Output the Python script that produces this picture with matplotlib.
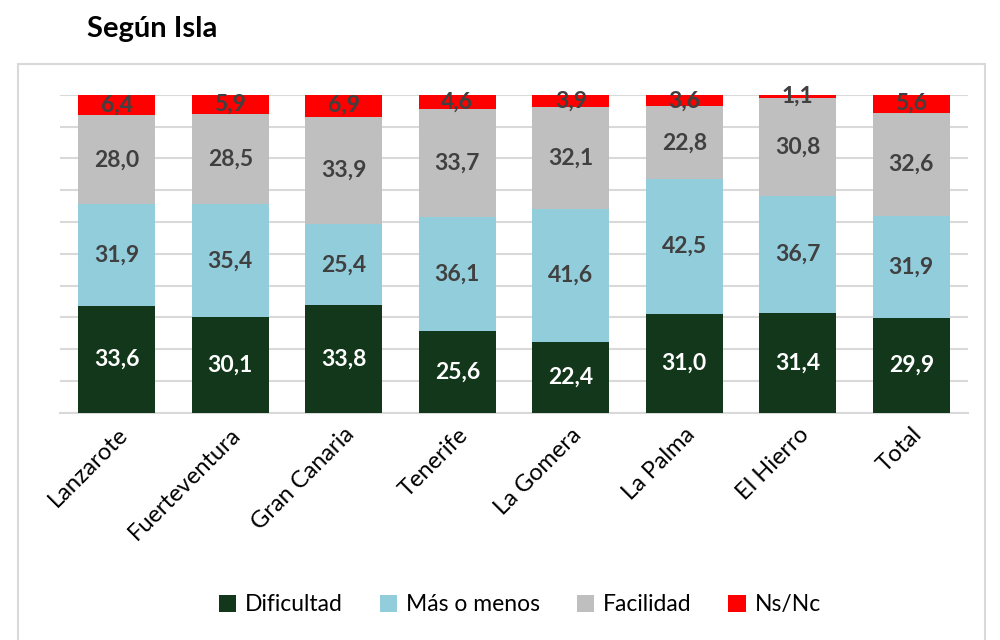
import matplotlib.pyplot as plt
import numpy as np
from matplotlib.patches import Rectangle

plt.rcParams['font.family'] = ['Lato', 'DejaVu Sans']

islas = ['Lanzarote', 'Fuerteventura', 'Gran Canaria', 'Tenerife',
         'La Gomera', 'La Palma', 'El Hierro', 'Total']
dificultad = [33.6, 30.1, 33.8, 25.6, 22.4, 31.0, 31.4, 29.9]
mas_o_menos = [31.9, 35.4, 25.4, 36.1, 41.6, 42.5, 36.7, 31.9]
facilidad = [28.0, 28.5, 33.9, 33.7, 32.1, 22.8, 30.8, 32.6]
ns_nc = [6.4, 5.9, 6.9, 4.6, 3.9, 3.6, 1.1, 5.6]

series = [('Dificultad', dificultad, '#12371a', 'white'),
          ('Más o menos', mas_o_menos, '#92cddc', '#404040'),
          ('Facilidad', facilidad, '#bfbfbf', '#404040'),
          ('Ns/Nc', ns_nc, '#ff0000', '#404040')]

fig = plt.figure(figsize=(10, 6.4), dpi=100)
# chart frame
fig.patches.append(Rectangle((0.018, -0.05), 0.967, 0.95, transform=fig.transFigure,
                             fill=False, edgecolor='#d9d9d9', linewidth=1.5))
fig.text(0.087, 0.955, 'Según Isla', fontsize=21, fontweight='bold', va='center')

ax = fig.add_axes([0.06, 0.355, 0.908, 0.497])
x = np.arange(len(islas))
bottom = np.zeros(len(islas))
for name, vals, color, tcolor in series:
    vals = np.array(vals)
    ax.bar(x, vals, bottom=bottom, width=0.68, color=color, label=name, zorder=3)
    for xi, b, v in zip(x, bottom, vals):
        ax.text(xi, b + v / 2, f'{v:.1f}'.replace('.', ','), ha='center', va='center',
                fontsize=16.5, fontweight='bold', color=tcolor, zorder=4)
    bottom += vals

ax.set_xlim(-0.5, len(islas) - 0.5)
ax.set_ylim(0, 100)
ax.set_yticks(np.arange(0, 101, 10))
ax.yaxis.grid(True, color='#d9d9d9', linewidth=1.5, zorder=0)
ax.tick_params(axis='y', left=False, labelleft=False)
ax.tick_params(axis='x', length=0, pad=8)
ax.set_xticks(x)
ax.set_xticklabels(islas, rotation=45, ha='right', rotation_mode='anchor', fontsize=17)
for s in ['top', 'right', 'left']:
    ax.spines[s].set_visible(False)
ax.spines['bottom'].set_color('#d9d9d9')
ax.spines['bottom'].set_linewidth(1.5)

fig.legend(loc='center', bbox_to_anchor=(0.52, 0.055), ncol=4, frameon=False,
           fontsize=16.5, handlelength=0.75, handleheight=0.75, handletextpad=0.4,
           columnspacing=1.6)

fig.savefig('out.png', dpi=100)
